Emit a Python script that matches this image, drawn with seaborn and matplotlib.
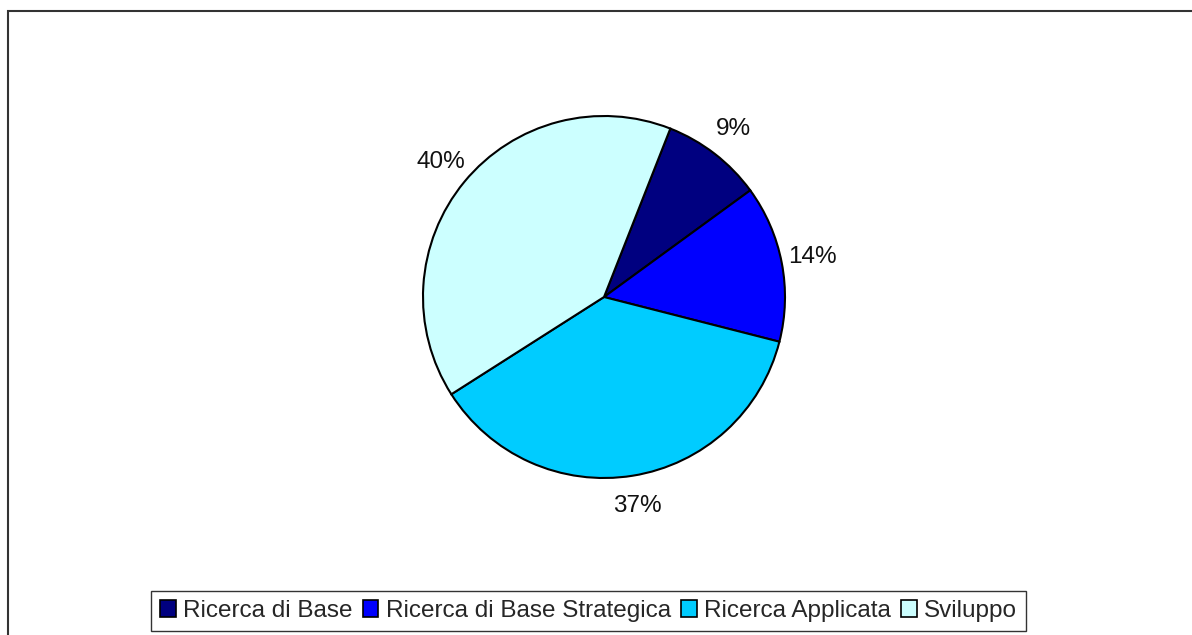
import matplotlib
matplotlib.use("Agg")
import matplotlib.pyplot as plt
from matplotlib.patches import Rectangle
import seaborn as sns

# Spending shares by type of research (percent)
categories = ["Ricerca di Base", "Ricerca di Base Strategica", "Ricerca Applicata", "Sviluppo"]
shares = [9, 14, 37, 40]
slice_colors = ["#000080", "#0000FF", "#00CCFF", "#CCFFFF"]

sns.set_theme(style="white")
plt.rcParams["font.family"] = ["Liberation Sans", "DejaVu Sans"]

W, H, DPI = 1192, 635, 100
fig = plt.figure(figsize=(W / DPI, H / DPI), dpi=DPI)
fig.patch.set_facecolor("white")

# pie centre and radius in pixels
cx, cy_top, R = 604, 297, 181
half = 250
cy = H - cy_top
ax = fig.add_axes([(cx - half) / W, (cy - half) / H, 2 * half / W, 2 * half / H])

palette = sns.color_palette(slice_colors)
wedges, texts, autotexts = ax.pie(
    shares,
    colors=palette,
    startangle=68.5,
    counterclock=False,
    radius=1.0,
    autopct=lambda p: f"{p:.0f}%",
    pctdistance=1.17,
    wedgeprops=dict(edgecolor="black", linewidth=1.5),
    textprops=dict(fontsize=17.5, color="#111111"),
)
ax.set_xlim(-half / R, half / R)
ax.set_ylim(-half / R, half / R)
ax.set_aspect("equal")
ax.axis("off")

leg = fig.legend(
    wedges, categories,
    loc="center", bbox_to_anchor=(588.5 / W, 24 / H),
    bbox_transform=fig.transFigure,
    ncol=4, fontsize=17.5, frameon=True, fancybox=False,
    handlelength=0.65, handleheight=0.65, handletextpad=0.3,
    columnspacing=0.42, borderpad=0.35,
)
leg.get_frame().set_edgecolor("black")
leg.get_frame().set_linewidth(1.0)
for h in leg.legend_handles:
    h.set_linewidth(1.2)

# outer chart frame
fig.add_artist(Rectangle((8 / W, -0.05), 1.1, (H - 11) / H + 0.05,
                         transform=fig.transFigure, fill=False,
                         edgecolor="#333333", linewidth=1.5))

fig.savefig("out.png", dpi=DPI, facecolor="white")
